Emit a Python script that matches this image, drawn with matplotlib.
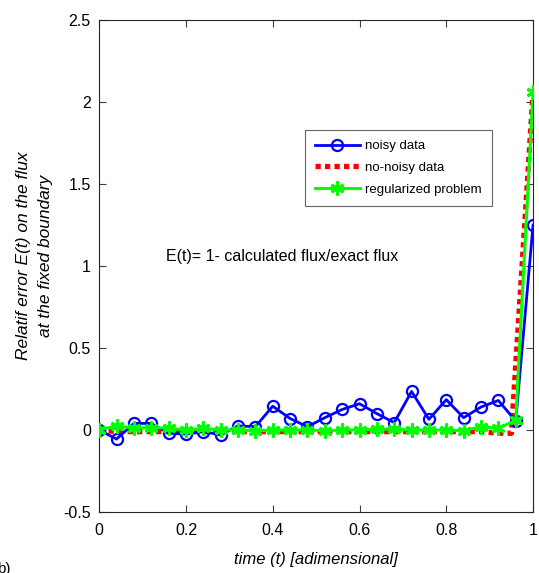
import matplotlib
matplotlib.use("Agg")
import matplotlib.pyplot as plt

plt.rcParams['font.family'] = ['Liberation Sans', 'DejaVu Sans']

t = [0, 0.04, 0.08, 0.12, 0.16, 0.20, 0.24, 0.28, 0.32, 0.36, 0.40, 0.44, 0.48,
     0.52, 0.56, 0.60, 0.64, 0.68, 0.72, 0.76, 0.80, 0.84, 0.88, 0.92, 0.96, 1.0]
noisy = [0, -0.055, 0.04, 0.04, -0.02, -0.025, -0.01, -0.03, 0.025, 0.02, 0.145, 0.07, 0.02,
         0.075, 0.125, 0.16, 0.1, 0.045, 0.235, 0.065, 0.185, 0.075, 0.14, 0.18, 0.055, 1.25]
regularized = [0, 0.025, 0.01, 0.015, 0.01, 0.0, 0.01, 0.0, 0.0, -0.005, 0.0, 0.0, 0.0,
               -0.005, 0.0, 0.0, 0.005, 0.005, 0.0, 0.0, 0.0, -0.005, 0.02, 0.01, 0.06, 2.06]
t_nonoisy = [0, 0.04, 0.08, 0.12, 0.16, 0.20, 0.24, 0.28, 0.32, 0.36, 0.40, 0.44, 0.48,
             0.52, 0.56, 0.60, 0.64, 0.68, 0.72, 0.76, 0.80, 0.84, 0.88, 0.92, 0.95, 1.0]
nonoisy = [0, -0.01, -0.01, -0.01, -0.01, -0.01, -0.01, -0.01, -0.01, -0.01, -0.01, -0.01, -0.01,
           -0.01, -0.01, -0.01, -0.01, -0.01, -0.01, -0.01, -0.01, -0.01, -0.01, -0.02, -0.02, 2.06]

xticks = [0, 0.2, 0.4, 0.6, 0.8, 1]
xticklabels = ['0', '0.2', '0.4', '0.6', '0.8', '1']
yticks = [-0.5, 0, 0.5, 1, 1.5, 2, 2.5]
yticklabels = ['-0.5', '0', '0.5', '1', '1.5', '2', '2.5']

fig = plt.figure(figsize=(5.39, 5.73), dpi=100)
ax = fig.add_axes([0.184, 0.1065, 0.805, 0.8585])

ax.plot(t, noisy, color='#0000ff', lw=2, marker='o', markersize=8,
        markerfacecolor='none', markeredgewidth=1.6, label='noisy data', zorder=3)
ax.plot(t_nonoisy, nonoisy, color='#ff0000', lw=3.8, linestyle=(0, (1, 0.8)),
        label='no-noisy data', zorder=2)
ax.plot(t, regularized, color='#00ff00', lw=2.2, marker=(6, 2, 0), markersize=10,
        markeredgewidth=2.2, label='regularized problem', zorder=4)

ax.set_xlim(0, 1)
ax.set_ylim(-0.5, 2.5)
ax.set_xticks(xticks)
ax.set_xticklabels(xticklabels)
ax.set_yticks(yticks)
ax.set_yticklabels(yticklabels)
ax.tick_params(direction='in', top=True, right=True, labelsize=11.5, length=5,
               width=0.8, color='#404040')
ax.tick_params(axis='x', pad=8)
ax.tick_params(axis='y', pad=6)
for s in ax.spines.values():
    s.set_linewidth(0.8)
    s.set_color('#262626')

ax.set_xlabel('time (t) [adimensional]', fontsize=12, style='italic', labelpad=10)
ax.set_ylabel('Relatif error E(t) on the flux\nat the fixed boundary', fontsize=12.5,
              style='italic', linespacing=1.6)
ax.yaxis.set_label_coords(-0.106, 0.52)

ax.text(0.154, 1.06, 'E(t)= 1- calculated flux/exact flux', fontsize=11.5,
        transform=ax.transData, va='center', ha='left')

leg = ax.legend(loc='upper left', bbox_to_anchor=(0.4747, 0.776), fontsize=9.5,
                frameon=True, fancybox=False, edgecolor='#404040', borderpad=0.75,
                handlelength=3.4, labelspacing=0.72, handletextpad=0.4,
                borderaxespad=0.0)
leg.get_frame().set_linewidth(0.8)

fig.text(-0.006, -0.006, 'b)', fontsize=11, ha='left', va='bottom')

fig.savefig('out.png', dpi=100)
